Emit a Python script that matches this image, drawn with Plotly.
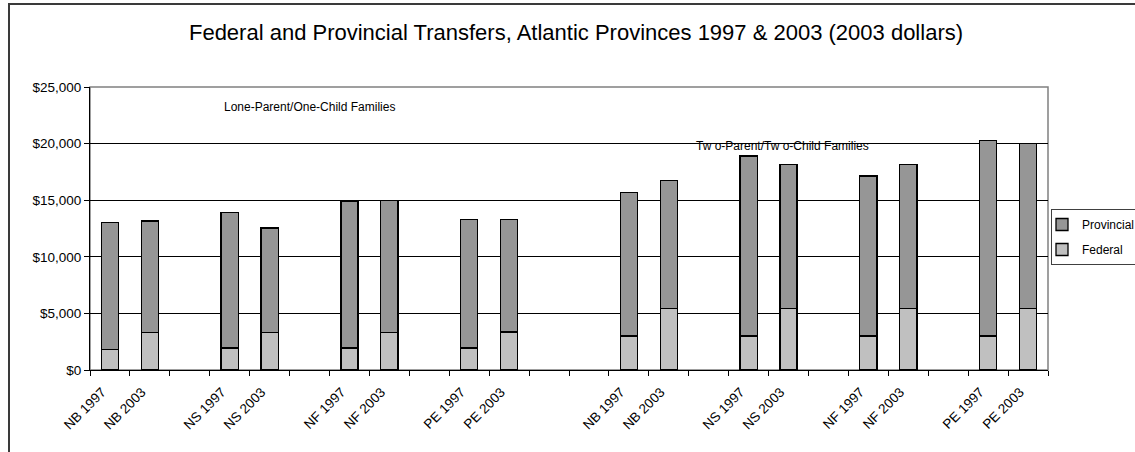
import plotly.graph_objects as go

labels = ["NB 1997", "NB 2003", "", "NS 1997", "NS 2003", "", "NF 1997", "NF 2003", "",
          "PE 1997", "PE 2003", "", "", "NB 1997", "NB 2003", "", "NS 1997", "NS 2003", "",
          "NF 1997", "NF 2003", "", "PE 1997", "PE 2003"]

federal = [1800, 3300, None, 1950, 3300, None, 1950, 3300, None,
           1950, 3350, None, None, 3000, 5450, None, 3000, 5450, None,
           3000, 5450, None, 3000, 5450]

provincial = [11200, 9850, None, 11950, 9250, None, 12950, 11700, None,
              11350, 9950, None, None, 12650, 11300, None, 15900, 12700, None,
              14150, 12700, None, 17250, 14550]

title_text = "Federal and Provincial Transfers, Atlantic Provinces 1997 & 2003 (2003 dollars)"
group_labels = ["Lone-Parent/One-Child Families", "Tw o-Parent/Tw o-Child Families"]

FONT = "Arial, Liberation Sans, sans-serif"
positions = list(range(len(labels)))
tick_pos = [p for p, l in zip(positions, labels) if l]
tick_txt = [l for l in labels if l]

fig = go.Figure()
fig.add_trace(go.Bar(x=positions, y=federal, name="Federal", legendgroup="f", legendrank=2,
                     marker=dict(color="#C0C0C0", line=dict(color="black", width=1.3))))
fig.add_trace(go.Bar(x=positions, y=provincial, name="Provincial", legendgroup="p", legendrank=1,
                     marker=dict(color="#969696", line=dict(color="black", width=1.3))))

fig.update_layout(
    barmode="stack",
    bargap=0.57,
    width=1135, height=452,
    margin=dict(l=90, r=87, t=87, b=82, autoexpand=False),
    paper_bgcolor="white", plot_bgcolor="white",
    font=dict(family=FONT, size=12, color="black"),
    title=dict(text=title_text, x=576 / 1135, xanchor="center", y=1 - 32 / 452, yanchor="middle",
               font=dict(family=FONT, size=22, color="black")),
    showlegend=True,
    legend=dict(x=(1051 - 90) / 958, y=(370 - 209) / 283, xanchor="left", yanchor="top",
                traceorder="grouped", tracegroupgap=6, indentation=-10,
                bordercolor="#404040", borderwidth=1, bgcolor="white",
                font=dict(family=FONT, size=12), itemwidth=30),
    xaxis=dict(range=[-0.5, len(labels) - 0.5], tickmode="array", tickvals=tick_pos,
               ticktext=tick_txt, tickangle=-45, ticks="", showgrid=False,
               showline=True, linecolor="black", linewidth=1,
               tickfont=dict(family=FONT, size=13.5),
               ticklabelshift=-8, ticklabelstandoff=8,
               minor=dict(tick0=-0.5, dtick=1, ticks="outside", ticklen=5,
                          tickcolor="black", showgrid=False)),
    yaxis=dict(range=[0, 25000], dtick=5000, tickprefix="$", tickformat=",d",
               showgrid=True, gridcolor="black", gridwidth=1,
               showline=True, linecolor="black", linewidth=1,
               ticks="outside", ticklen=5, tickcolor="black",
               tickfont=dict(family=FONT, size=13.5), zeroline=False),
    shapes=[
        dict(type="rect", xref="paper", yref="paper", x0=0, x1=1, y0=0, y1=1,
             line=dict(color="#808080", width=1.5), layer="below"),
        dict(type="rect", xref="paper", yref="paper", x0=(9 - 90) / 958, x1=1.3,
             y0=-0.6, y1=(370 - 4) / 283, line=dict(color="#3a3a3a", width=2)),
    ],
    annotations=[
        dict(text=group_labels[0], xref="paper", yref="paper", x=(222 - 90) / 958,
             y=(370 - 107) / 283, xanchor="left", yanchor="middle", showarrow=False,
             font=dict(family=FONT, size=12)),
        dict(text=group_labels[1], xref="paper", yref="paper", x=(694 - 90) / 958,
             y=(370 - 146) / 283, xanchor="left", yanchor="middle", showarrow=False,
             font=dict(family=FONT, size=12)),
    ],
)

fig.write_html("out.html", config={"displayModeBar": False},
               post_script="document.body.style.margin='0';")
